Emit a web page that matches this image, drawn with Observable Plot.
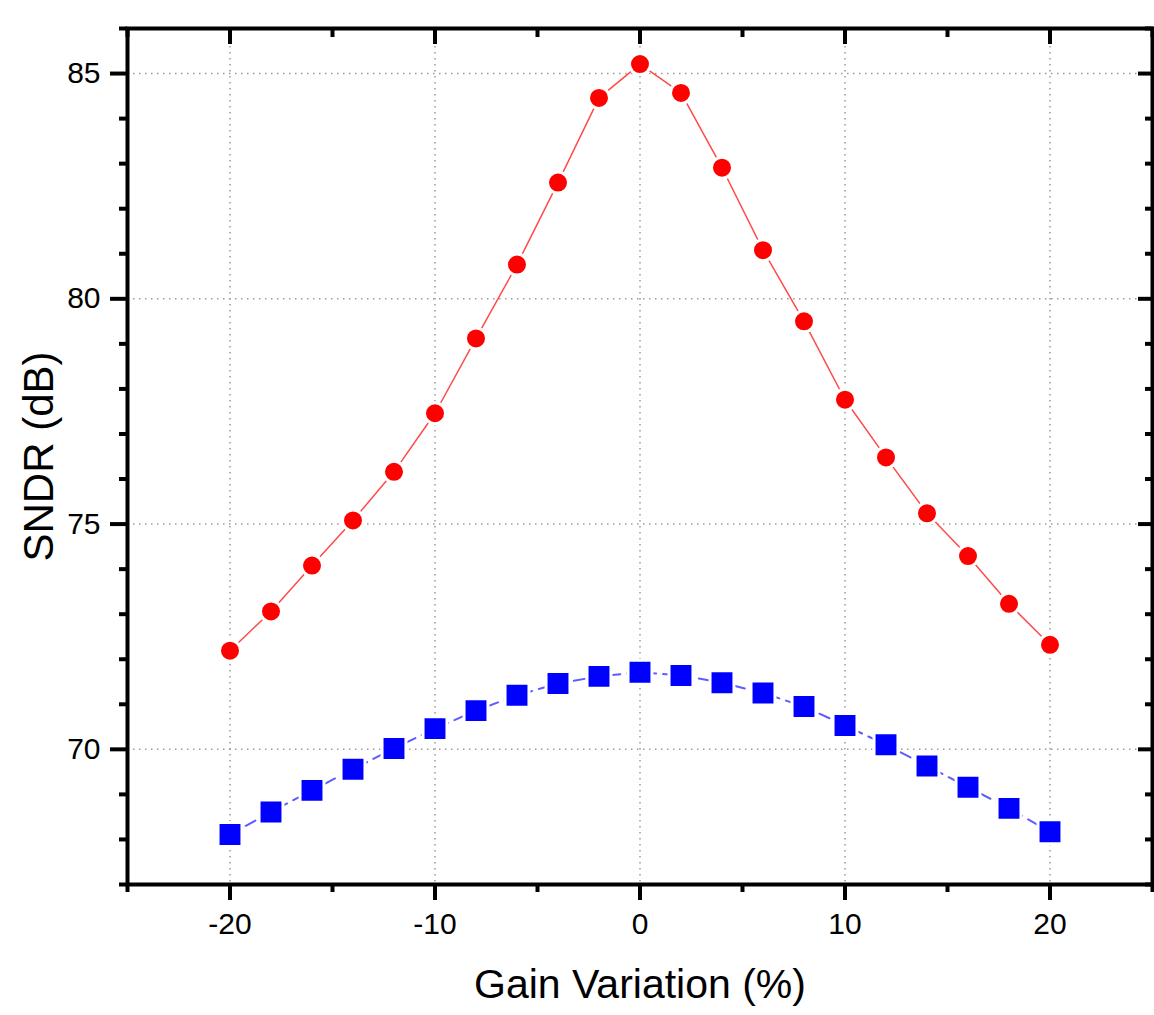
<!DOCTYPE html>
<html>
<head>
<meta charset="utf-8">
<script src="https://cdn.jsdelivr.net/npm/d3@7"></script>
<script src="https://cdn.jsdelivr.net/npm/@observablehq/plot@0.6"></script>
<style>
  html, body { margin: 0; padding: 0; background: #fff; }
</style>
</head>
<body>
<div id="chart"></div>
<script>
// ---- data ----
const gain = [-20, -18, -16, -14, -12, -10, -8, -6, -4, -2, 0, 2, 4, 6, 8, 10, 12, 14, 16, 18, 20];
const sndrRed = [72.19, 73.06, 74.08, 75.08, 76.16, 77.46, 79.12, 80.76, 82.58, 84.46, 85.21,
                 84.57, 82.91, 81.08, 79.50, 77.76, 76.48, 75.24, 74.29, 73.23, 72.32];
const sndrBlue = [68.11, 68.61, 69.09, 69.56, 70.02, 70.46, 70.86, 71.20, 71.46, 71.62, 71.71,
                  71.64, 71.48, 71.25, 70.95, 70.53, 70.10, 69.63, 69.16, 68.69, 68.17];
const xMajorTicks = [-20, -10, 0, 10, 20];
const xMinorTicks = [-25, -15, -5, 5, 15, 25];
const yMajorTicks = [70, 75, 80, 85];
const yMinorTicks = [67, 68, 69, 71, 72, 73, 74, 76, 77, 78, 79, 81, 82, 83, 84, 86];
const xLabel = "Gain Variation (%)";
const yLabel = "SNDR (dB)";

const redRows = gain.map((g, i) => ({g, v: sndrRed[i]}));
const blueRows = gain.map((g, i) => ({g, v: sndrBlue[i]}));

const gridStyle = {stroke: "#9a9a9a", strokeOpacity: 1, strokeWidth: 1.5, strokeDasharray: "1.5,4.5"};
const axisCommon = {strokeWidth: 4, label: null};

const chart = Plot.plot({
  width: 1154,
  height: 1015,
  marginLeft: 127,
  marginRight: 2,
  marginTop: 28,
  marginBottom: 131,
  x: {domain: [-25, 25]},
  y: {domain: [67, 86]},
  style: {fontFamily: "'Liberation Sans', Arial, sans-serif", background: "#fff", color: "#000", overflow: "visible"},
  marks: [
    Plot.gridX(xMajorTicks, gridStyle),
    Plot.gridY(yMajorTicks, gridStyle),
    Plot.line(redRows, {x: "g", y: "v", stroke: "#ff4a4a", strokeWidth: 1.5}),
    Plot.line(blueRows, {x: "g", y: "v", stroke: "#5c5cff", strokeWidth: 2, strokeDasharray: "11,7"}),
    Plot.dot(redRows, {x: "g", y: "v", r: 10.5, fill: "#ff0000", stroke: "#fff", strokeWidth: 3}),
    Plot.dot(blueRows, {x: "g", y: "v", symbol: "square", r: 13.5, fill: "#0000ff", stroke: "#fff", strokeWidth: 3}),
    // bottom axis (outward)
    Plot.axisX(xMajorTicks, {...axisCommon, anchor: "bottom", tickSize: 16, tickPadding: 12, fontSize: 30, tickFormat: d => String(d)}),
    Plot.axisX(xMinorTicks, {...axisCommon, anchor: "bottom", tickSize: 8, fill: "none"}),
    // top axis (inward)
    Plot.axisX(xMajorTicks, {...axisCommon, anchor: "top", tickSize: 15, dy: 15, fill: "none"}),
    Plot.axisX(xMinorTicks, {...axisCommon, anchor: "top", tickSize: 8, dy: 8, fill: "none"}),
    // left axis (outward)
    Plot.axisY(yMajorTicks, {...axisCommon, anchor: "left", tickSize: 17, tickPadding: 10, fontSize: 30, tickFormat: d => String(d)}),
    Plot.axisY(yMinorTicks, {...axisCommon, anchor: "left", tickSize: 8, fill: "none"}),
    // right axis (inward)
    Plot.axisY(yMajorTicks, {...axisCommon, anchor: "right", tickSize: 15, dx: -15, fill: "none"}),
    Plot.axisY(yMinorTicks, {...axisCommon, anchor: "right", tickSize: 8, dx: -8, fill: "none"}),
    Plot.frame({stroke: "#000", strokeWidth: 4}),
    Plot.text([xLabel], {text: d => d, frameAnchor: "bottom", dy: 113, fontSize: 41, lineAnchor: "bottom", textAnchor: "middle", fill: "#000"}),
    Plot.text([yLabel], {text: d => d, frameAnchor: "left", dx: -75, rotate: -90, fontSize: 42, lineAnchor: "bottom", textAnchor: "middle", fill: "#000"})
  ]
});
document.getElementById("chart").appendChild(chart);
</script>
</body>
</html>
